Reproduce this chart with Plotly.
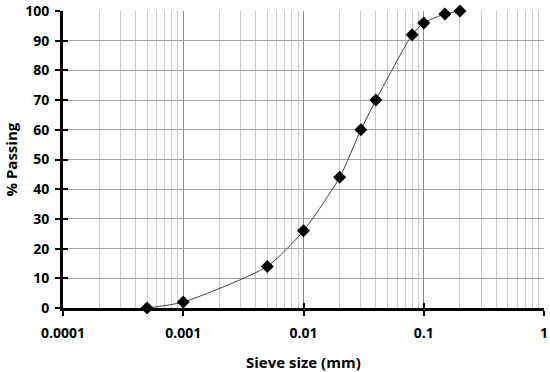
import plotly.graph_objects as go

sieve_size_mm = [0.0005, 0.001, 0.005, 0.01, 0.02, 0.03, 0.04, 0.08, 0.1, 0.15, 0.2]
percent_passing = [0, 2, 14, 26, 44, 60, 70, 92, 96, 99, 100]
x_tick_vals = [0.0001, 0.001, 0.01, 0.1, 1]
x_tick_text = ["0.0001", "0.001", "0.01", "0.1", "1"]
y_tick_vals = [0, 10, 20, 30, 40, 50, 60, 70, 80, 90, 100]

font_family = "Open Sans, Liberation Sans, Arial, sans-serif"

fig = go.Figure()
fig.add_trace(go.Scatter(
    x=sieve_size_mm, y=percent_passing, mode="lines+markers",
    line=dict(color="#444444", width=1, shape="spline", smoothing=0.6),
    marker=dict(symbol="diamond", size=10, color="black"),
    showlegend=False, cliponaxis=False,
))

fig.update_layout(
    width=550, height=372,
    margin=dict(l=63, r=6, t=11, b=64, autoexpand=False),
    paper_bgcolor="white", plot_bgcolor="white",
    font=dict(family=font_family, color="black"),
    xaxis=dict(
        type="log", range=[-4, 0], automargin=False,
        tickvals=x_tick_vals, ticktext=x_tick_text,
        tickfont=dict(size=14, family=font_family, weight="bold"),
        ticks="outside", ticklen=5, tickwidth=2, tickcolor="black",
        ticklabelstandoff=5,
        showline=True, linecolor="black", linewidth=3,
        showgrid=True, gridcolor="#8c8c8c", gridwidth=1,
        minor=dict(dtick="D1", showgrid=True, gridcolor="#c8c8c8", gridwidth=1, ticks=""),
        zeroline=False,
    ),
    yaxis=dict(
        range=[0, 100], tickvals=y_tick_vals, automargin=False,
        tickfont=dict(size=14, family=font_family, weight="bold"),
        ticks="outside", ticklen=5, tickwidth=2, tickcolor="black",
        ticklabelstandoff=3,
        showline=True, linecolor="black", linewidth=3,
        showgrid=True, gridcolor="#a6a6a6", gridwidth=1,
        zeroline=False,
    ),
    xaxis2=dict(
        type="log", range=[-4, 0], overlaying="x", anchor="y", side="bottom",
        tickvals=x_tick_vals, showticklabels=False, automargin=False,
        ticks="inside", ticklen=5, tickwidth=2, tickcolor="black",
        showgrid=False, zeroline=False, showline=False,
    ),
    yaxis2=dict(
        range=[0, 100], overlaying="y", anchor="x", side="left",
        tickvals=y_tick_vals, showticklabels=False, automargin=False,
        ticks="inside", ticklen=5, tickwidth=2, tickcolor="black",
        showgrid=False, zeroline=False, showline=False,
    ),
    annotations=[
        dict(text="<b>Sieve size (mm)</b>", xref="paper", yref="paper",
             x=0.5, y=-54 / 297, xanchor="center", yanchor="middle",
             showarrow=False, font=dict(size=15, family=font_family)),
        dict(text="<b>% Passing</b>", xref="paper", yref="paper",
             x=-53 / 481, y=0.5, xanchor="center", yanchor="middle", textangle=-90,
             showarrow=False, font=dict(size=15, family=font_family)),
    ],
)
fig.add_trace(go.Scatter(x=[0.0001], y=[0], xaxis="x2", yaxis="y2", mode="markers",
                         marker=dict(opacity=0), showlegend=False, hoverinfo="skip"))

fig.write_html(
    "out.html",
    config={"displayModeBar": False},
    post_script="document.body.style.margin='0';document.body.style.overflow='hidden';",
)
